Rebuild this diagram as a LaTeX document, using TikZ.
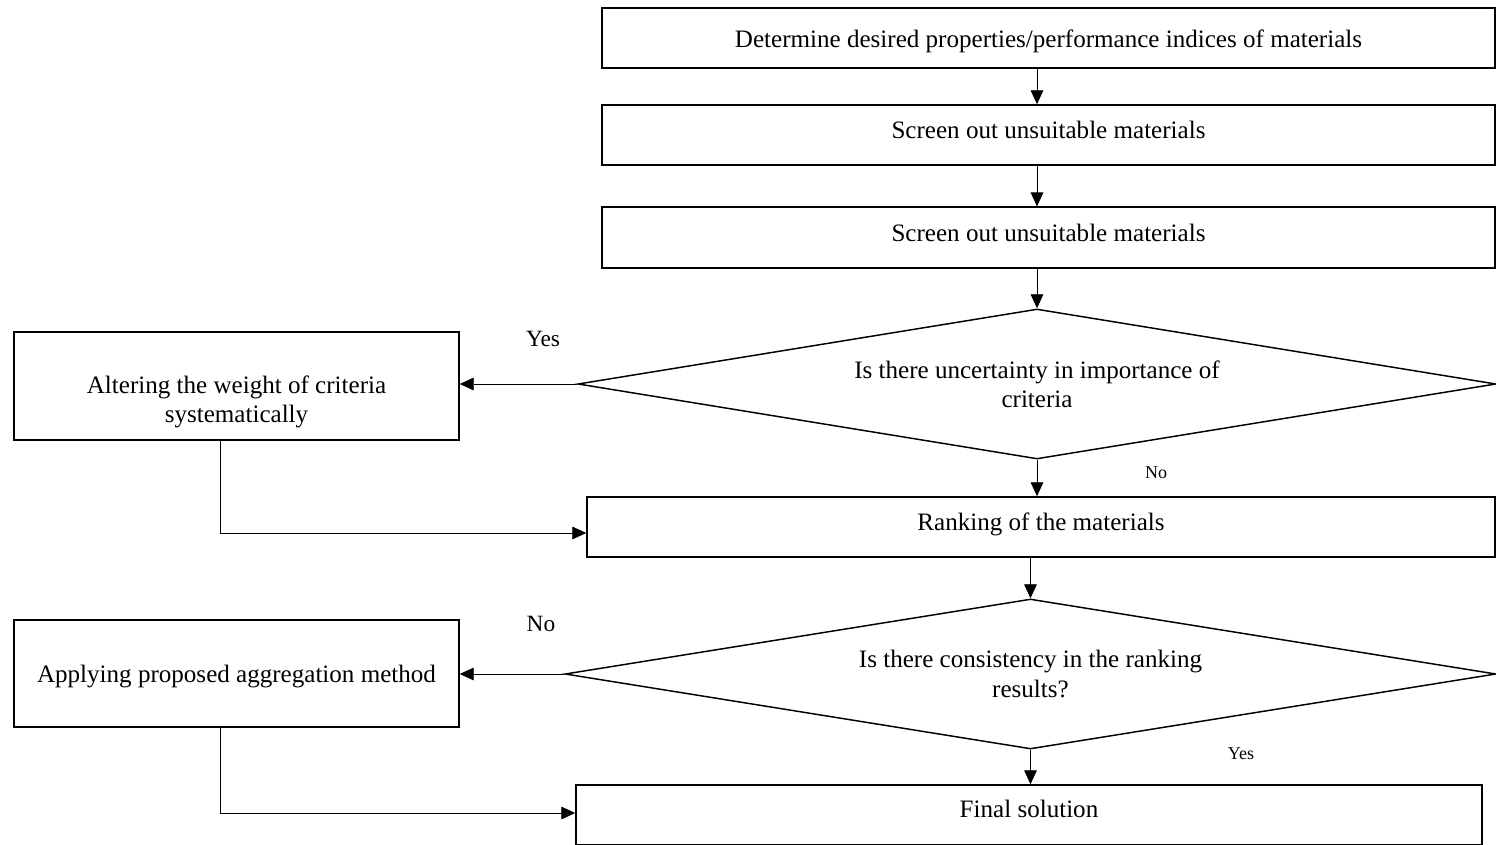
\documentclass[tikz,border=0pt]{standalone}
\usepackage{fontspec}
\setmainfont{Liberation Serif}
\usetikzlibrary{arrows.meta,shapes.geometric}
\tikzset{
  stepbox/.style={draw, line width=1.1pt, inner sep=0pt, align=center,
    font=\fontsize{18.8}{21.5}\selectfont},
  query/.style={draw, diamond, line width=1.1pt, inner sep=0pt, aspect=6.1,
    align=center, font=\fontsize{18.8}{21.8}\selectfont},
  link/.style={line width=0.7pt, -{Triangle[length=10.5pt,width=9.5pt]}},
  answer/.style={font=\fontsize{17.5}{20}\selectfont},
  smallanswer/.style={font=\fontsize{13.5}{16}\selectfont}
}
\begin{document}
\begin{tikzpicture}[x=0.75pt, y=-0.75pt]
            \useasboundingbox (0,0) rectangle (1496,845);
            \node[stepbox, minimum width=669.75pt, minimum height=45pt, text height=19pt] (props) at (1048.5,38) {Determine desired properties/performance indices of materials};
            \node[stepbox, minimum width=669.75pt, minimum height=45pt, text depth=7.5pt] (screena) at (1048.5,135) {Screen out unsuitable materials};
            \node[stepbox, minimum width=669.75pt, minimum height=45.5pt, text depth=7.5pt] (screenb) at (1048.5,237.5) {Screen out unsuitable materials};
            \node[query, minimum width=688.5pt, minimum height=112.5pt] (weightq) at (1037,384) {Is there uncertainty in importance of\\criteria};
            \node[stepbox, minimum width=333.75pt, minimum height=81pt] (alter) at (236.5,386) {\rule{0pt}{37pt}Altering the weight of criteria\\systematically};
            \node[stepbox, minimum width=681pt, minimum height=45pt, text depth=8.5pt] (rank) at (1041,527) {Ranking of the materials};
            \node[query, minimum width=698.25pt, minimum height=112.5pt] (consq) at (1030.5,674) {Is there consistency in the ranking\\results?};
            \node[stepbox, minimum width=333.75pt, minimum height=80.25pt, text height=17.5pt] (aggr) at (236.5,673.5) {Applying proposed aggregation method};
            \node[stepbox, minimum width=679.5pt, minimum height=45pt, text depth=9pt] (final) at (1029,815) {Final solution};
            % answers
            \node[answer] (yesa) at (543,339) {Yes};
            \node[smallanswer] (noa) at (1156,473) {No};
            \node[answer] (nob) at (541,624) {No};
            \node[smallanswer] (yesb) at (1241,754) {Yes};
            % main line
            \draw[link] (weightq.north |- props.south) -- (weightq.north |- screena.north);
            \draw[link] (weightq.north |- screena.south) -- (weightq.north |- screenb.north);
            \draw[link] (weightq.north |- screenb.south) -- (weightq.north);
            \draw[link] (weightq.south) -- (weightq.south |- rank.north);
            \draw[link] (consq.north |- rank.south) -- (consq.north);
            \draw[link] (consq.south) -- (consq.south |- final.north);
            % side loops
            \draw[link] (weightq.west) -- (weightq.west -| alter.east);
            \draw[link] ([xshift=-12pt]alter.south) |- ([yshift=-4.5pt]rank.west);
            \draw[link] (consq.west) -- (consq.west -| aggr.east);
            \draw[link] ([xshift=-12pt]aggr.south) |- ([yshift=1.5pt]final.west);
        \end{tikzpicture}
\end{document}
